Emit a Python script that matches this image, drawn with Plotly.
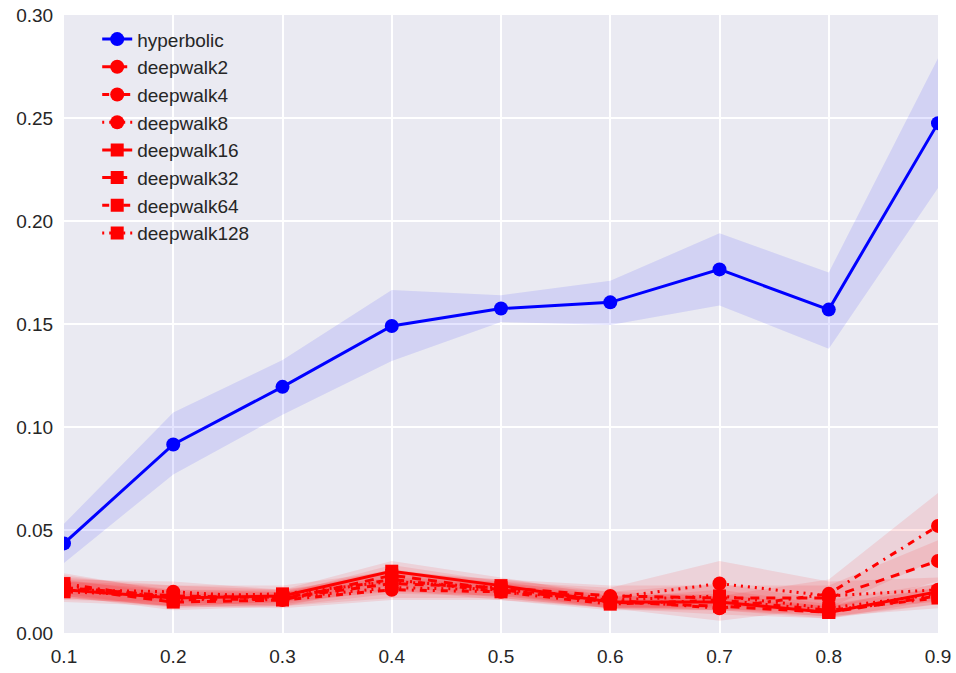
import plotly.graph_objects as go

x = [0.1, 0.2, 0.3, 0.4, 0.5, 0.6, 0.7, 0.8, 0.9]

hyperbolic = [0.0435, 0.0915, 0.1195, 0.149, 0.1575, 0.1605, 0.1765, 0.157, 0.2475]
hyperbolic_lo = [0.034, 0.077, 0.106, 0.132, 0.151, 0.1495, 0.159, 0.138, 0.216]
hyperbolic_hi = [0.053, 0.107, 0.1325, 0.1665, 0.164, 0.171, 0.194, 0.175, 0.279]

deepwalk2 = [0.022, 0.018, 0.017, 0.024, 0.022, 0.018, 0.017, 0.017, 0.035]
deepwalk4 = [0.023, 0.017, 0.016, 0.021, 0.020, 0.016, 0.012, 0.019, 0.052]
deepwalk8 = [0.021, 0.020, 0.017, 0.022, 0.021, 0.017, 0.024, 0.018, 0.021]
deepwalk16 = [0.021, 0.017, 0.018, 0.030, 0.023, 0.015, 0.015, 0.010, 0.020]
deepwalk32 = [0.022, 0.015, 0.016, 0.028, 0.021, 0.015, 0.013, 0.010, 0.018]
deepwalk64 = [0.024, 0.016, 0.017, 0.026, 0.020, 0.014, 0.016, 0.011, 0.017]
deepwalk128 = [0.020, 0.018, 0.019, 0.025, 0.022, 0.016, 0.018, 0.012, 0.019]

deepwalk_spread = {
    "deepwalk2": [0.005, 0.005, 0.004, 0.005, 0.004, 0.005, 0.006, 0.006, 0.010],
    "deepwalk4": [0.005, 0.004, 0.004, 0.005, 0.004, 0.004, 0.006, 0.007, 0.016],
    "deepwalk8": [0.005, 0.005, 0.004, 0.005, 0.004, 0.005, 0.011, 0.007, 0.006],
    "deepwalk16": [0.004, 0.004, 0.003, 0.005, 0.004, 0.003, 0.004, 0.003, 0.004],
    "deepwalk32": [0.004, 0.004, 0.003, 0.005, 0.004, 0.003, 0.004, 0.003, 0.004],
    "deepwalk64": [0.005, 0.004, 0.003, 0.005, 0.004, 0.003, 0.005, 0.003, 0.005],
    "deepwalk128": [0.005, 0.005, 0.004, 0.005, 0.004, 0.004, 0.006, 0.004, 0.005],
}

series = [
    ("deepwalk2", deepwalk2, "circle", "9px,7px"),
    ("deepwalk4", deepwalk4, "circle", "7px,6px,2px,6px"),
    ("deepwalk8", deepwalk8, "circle", "2px,5px"),
    ("deepwalk16", deepwalk16, "square", "solid"),
    ("deepwalk32", deepwalk32, "square", "9px,7px"),
    ("deepwalk64", deepwalk64, "square", "7px,6px,2px,6px"),
    ("deepwalk128", deepwalk128, "square", "2px,5px"),
]

fig = go.Figure()

# bands
fig.add_trace(go.Scatter(
    x=x + x[::-1], y=hyperbolic_hi + hyperbolic_lo[::-1], fill="toself",
    fillcolor="rgba(0,0,255,0.1)", line=dict(width=0), mode="lines",
    showlegend=False, hoverinfo="skip"))
for name, vals, sym, dash in series:
    sp = deepwalk_spread[name]
    hi = [v + s for v, s in zip(vals, sp)]
    lo = [v - s for v, s in zip(vals, sp)]
    fig.add_trace(go.Scatter(
        x=x + x[::-1], y=hi + lo[::-1], fill="toself",
        fillcolor="rgba(255,0,0,0.1)", line=dict(width=0), mode="lines",
        showlegend=False, hoverinfo="skip"))

fig.add_trace(go.Scatter(
    x=x, y=hyperbolic, name="hyperbolic", mode="lines+markers",
    line=dict(color="#0000ff", width=3),
    marker=dict(symbol="circle", size=14, color="#0000ff")))
for name, vals, sym, dash in series:
    fig.add_trace(go.Scatter(
        x=x, y=vals, name=name, mode="lines+markers",
        line=dict(color="#ff0000", width=3, dash=dash),
        marker=dict(symbol=sym, size=13 if sym == "square" else 14, color="#ff0000")))

font = dict(family="Liberation Sans, Arial, sans-serif", size=19, color="#262626")
fig.update_layout(
    width=956, height=673,
    margin=dict(l=64, r=18, t=15, b=40),
    paper_bgcolor="white", plot_bgcolor="#EAEAF2",
    font=font,
    legend=dict(x=0.038, y=0.9915, xanchor="left", yanchor="top",
                bgcolor="rgba(0,0,0,0)", font=font),
    showlegend=True,
)
fig.update_xaxes(range=[0.1, 0.9], tickvals=x, ticktext=["%.1f" % v for v in x],
                 showgrid=True, gridcolor="white", gridwidth=1.5, zeroline=False,
                 ticks="outside", ticklen=6, tickcolor="rgba(0,0,0,0)", showline=False,
                 automargin=False)
fig.update_yaxes(range=[0, 0.30], tickvals=[0, 0.05, 0.10, 0.15, 0.20, 0.25, 0.30],
                 ticktext=["0.00", "0.05", "0.10", "0.15", "0.20", "0.25", "0.30"],
                 showgrid=True, gridcolor="white", gridwidth=1.5, zeroline=False,
                 ticks="outside", ticklen=6, tickcolor="rgba(0,0,0,0)", showline=False,
                 automargin=False)

fig.write_html("out.html", config={"displayModeBar": False},
               post_script="document.body.style.margin='0';document.body.style.overflow='hidden';")
